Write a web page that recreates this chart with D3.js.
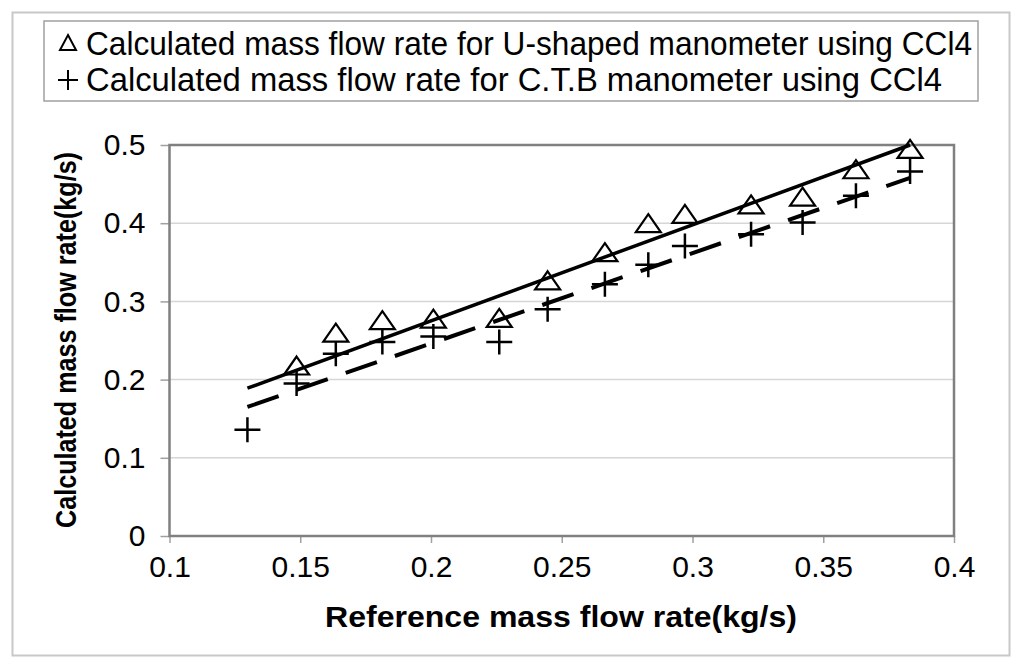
<!DOCTYPE html>
<html>
<head>
<meta charset="utf-8">
<script src="https://cdn.jsdelivr.net/npm/d3@7"></script>
<style>
  body { margin: 0; background: #fff; }
  svg { display: block; font-family: "Liberation Sans", Arial, sans-serif; }
</style>
</head>
<body>
<svg id="chart"></svg>
<script>
// U-shaped manometer (triangles)
var uX = [0.1486, 0.1636, 0.1814, 0.2009, 0.2261, 0.2446, 0.2665, 0.2831, 0.2971, 0.3224, 0.3421, 0.3625, 0.3832];
var uY = [0.218, 0.260, 0.276, 0.278, 0.279, 0.327, 0.363, 0.400, 0.412, 0.424, 0.434, 0.469, 0.495];
// C.T.B manometer (plus)
var cX = [0.1298, 0.1486, 0.1636, 0.1814, 0.2009, 0.2261, 0.2446, 0.2665, 0.2831, 0.2971, 0.3224, 0.3421, 0.3625, 0.3832];
var cY = [0.136, 0.195, 0.233, 0.248, 0.255, 0.248, 0.290, 0.322, 0.347, 0.371, 0.386, 0.401, 0.435, 0.466];
// trend lines (start, end)
var trendUX = [0.1298, 0.3832], trendUY = [0.189, 0.500];
var trendCX = [0.1298, 0.3832], trendCY = [0.165, 0.458];

var xTicks = [0.1, 0.15, 0.2, 0.25, 0.3, 0.35, 0.4];
var yTicks = [0, 0.1, 0.2, 0.3, 0.4, 0.5];
var legendLabels = ["Calculated mass flow rate for U-shaped manometer using CCl4",
                    "Calculated mass flow rate for C.T.B manometer using CCl4"];

var W = 1024, H = 672;
var pL = 169.5, pR = 954, pT = 145, pB = 536;

var svg = d3.select("#chart").attr("width", W).attr("height", H);

// outer frame
svg.append("rect").attr("x", 12.5).attr("y", 12.5).attr("width", 997).attr("height", 643)
   .attr("fill", "#fff").attr("stroke", "#c8c8c8").attr("stroke-width", 2);

var x = d3.scaleLinear().domain([0.1, 0.4]).range([pL, pR]);
var y = d3.scaleLinear().domain([0, 0.5]).range([pB, pT]);

// gridlines
svg.append("g").selectAll("line").data(yTicks.filter(function(d){ return d > 0 && d < 0.5; }))
   .join("line")
   .attr("x1", pL).attr("x2", pR)
   .attr("y1", function(d){ return y(d); }).attr("y2", function(d){ return y(d); })
   .attr("stroke", "#d6d6d6").attr("stroke-width", 1.5);

// axes
var xAxis = d3.axisBottom(x).tickValues(xTicks).tickSize(7).tickPadding(13)
   .tickFormat(function(d){ return String(+d.toFixed(2)); });
var yAxis = d3.axisLeft(y).tickValues(yTicks).tickSize(9).tickPadding(15)
   .tickFormat(function(d){ return String(+d.toFixed(1)); });

var gx = svg.append("g").attr("transform", "translate(0," + pB + ")").call(xAxis);
var gy = svg.append("g").attr("transform", "translate(" + pL + ",0)").call(yAxis);
[gx, gy].forEach(function(g) {
  g.attr("font-size", 30).attr("font-family", "Liberation Sans, Arial, sans-serif");
  g.select(".domain").remove();
  g.selectAll(".tick line").attr("stroke", "#a0a0a0").attr("stroke-width", 1.5);
  g.selectAll(".tick text").attr("fill", "#000");
});
gx.selectAll(".tick text").attr("dy", "0.71em");

// plot frame
svg.append("rect").attr("x", pL).attr("y", pT).attr("width", pR - pL).attr("height", pB - pT)
   .attr("fill", "none").attr("stroke", "#808080").attr("stroke-width", 2.5);

// trend lines
var line = d3.line().x(function(d){ return x(d[0]); }).y(function(d){ return y(d[1]); });
svg.append("path").datum(d3.zip(trendUX, trendUY)).attr("d", line)
   .attr("fill", "none").attr("stroke", "#000").attr("stroke-width", 3.5);
svg.append("path").datum(d3.zip(trendCX, trendCY)).attr("d", line)
   .attr("fill", "none").attr("stroke", "#000").attr("stroke-width", 4)
   .attr("stroke-dasharray", "33,19");

// markers
function triPath(cx, cy) {
  return "M" + cx + "," + (cy - 9) + "L" + (cx + 12.5) + "," + (cy + 9) + "L" + (cx - 12.5) + "," + (cy + 9) + "Z";
}
function plusPath(cx, cy) {
  return "M" + (cx - 13) + "," + cy + "H" + (cx + 13) + "M" + cx + "," + (cy - 12.5) + "V" + (cy + 12.5);
}
svg.append("g").selectAll("path").data(d3.zip(uX, uY)).join("path")
   .attr("d", function(d){ return triPath(x(d[0]), y(d[1])); })
   .attr("fill", "none").attr("stroke", "#000").attr("stroke-width", 2.2);
svg.append("g").selectAll("path").data(d3.zip(cX, cY)).join("path")
   .attr("d", function(d){ return plusPath(x(d[0]), y(d[1])); })
   .attr("fill", "none").attr("stroke", "#000").attr("stroke-width", 2.5);

// axis titles
svg.append("text").attr("x", 561).attr("y", 627).attr("text-anchor", "middle")
   .attr("font-size", 29).attr("font-weight", "bold")
   .attr("textLength", 472).attr("lengthAdjust", "spacingAndGlyphs")
   .text("Reference mass flow rate(kg/s)");
svg.append("text").attr("transform", "translate(76,340) rotate(-90)").attr("text-anchor", "middle")
   .attr("font-size", 29).attr("font-weight", "bold")
   .attr("textLength", 376).attr("lengthAdjust", "spacingAndGlyphs")
   .text("Calculated mass flow rate(kg/s)");

// legend
var lg = svg.append("g");
lg.append("rect").attr("x", 44).attr("y", 21).attr("width", 934).attr("height", 80)
  .attr("fill", "#fff").attr("stroke", "#a0a0a0").attr("stroke-width", 1.5);
var legendW = [886, 856];
legendLabels.forEach(function(t, i) {
  var ly = 43 + i * 36;
  lg.append("path")
    .attr("d", i === 0 ? "M68,35L76,50L60,50Z" : "M58,80H78M68,70V90")
    .attr("fill", "none").attr("stroke", "#000").attr("stroke-width", 2);
  lg.append("text").attr("x", 86).attr("y", ly).attr("dy", "0.36em")
    .attr("font-size", 33).attr("textLength", legendW[i]).attr("lengthAdjust", "spacingAndGlyphs")
    .text(t);
});
</script>
</body>
</html>
